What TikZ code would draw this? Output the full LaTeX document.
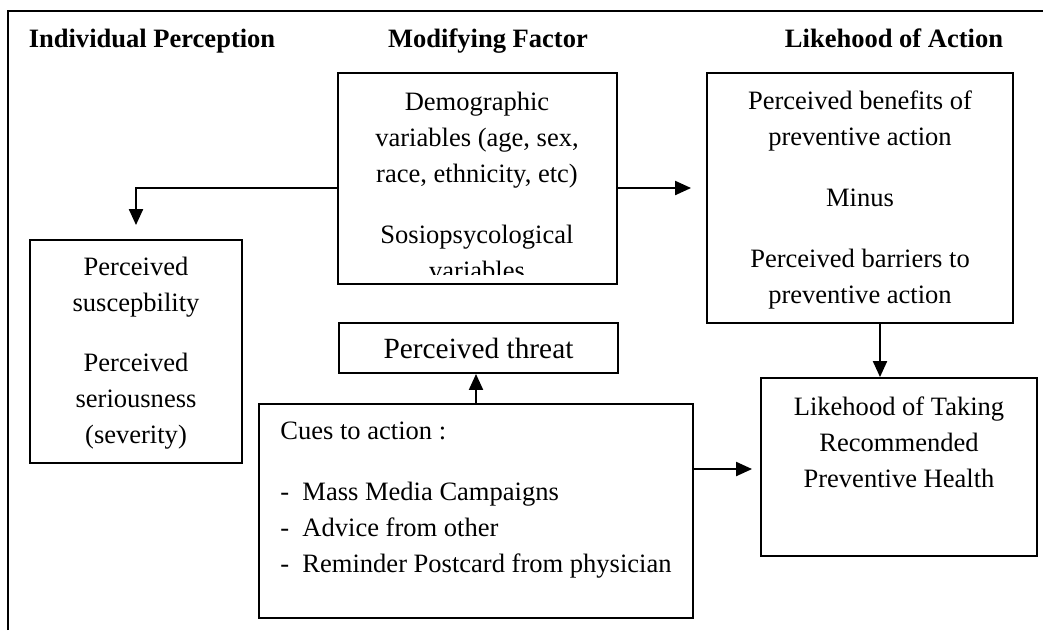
\documentclass[tikz,border=0pt]{standalone}
\usepackage{fontspec}
\setmainfont{Liberation Serif}
\usetikzlibrary{arrows.meta}
\begin{document}
\begin{tikzpicture}[x=0.02cm, y=-0.02cm,
  box/.style={draw, line width=1.1pt, inner sep=0pt},
  txt/.style={align=center, inner sep=0pt, font=\fontsize{15.1}{20.5}\selectfont},
  head/.style={inner sep=0pt, anchor=base, font=\fontsize{15.1}{18}\selectfont\bfseries},
  arr/.style={line width=1.2pt, -{Triangle[length=0.32cm, width=0.28cm]}}]
\useasboundingbox (0,0) rectangle (1043,630);
\draw[line width=1.1pt] (8,630) -- (8,11) -- (1043,11);
% headings
\node[head] (h1) at (152,47) {Individual Perception};
\node[head] (h2) at (488,47) {Modifying Factor};
\node[head] (h3) at (894,47) {Likehood of Action};
% boxes
\node[box, minimum width=5.58cm, minimum height=4.22cm] (1) at (477.5,178.5) {};
\node[box, minimum width=6.12cm, minimum height=5.0cm] (2) at (860,198) {};
\node[box, minimum width=4.24cm, minimum height=4.46cm] (3) at (136,351.5) {};
\node[box, minimum width=5.58cm, minimum height=1.0cm,
  font=\fontsize{16.7}{20}\selectfont] (4) at (478.5,348) {Perceived threat};
\node[box, minimum width=8.68cm, minimum height=4.28cm] (5) at (476,511) {};
\node[box, minimum width=5.52cm, minimum height=3.56cm] (6) at (899,467) {};
% texts
\begin{scope}
\clip (338,73) rectangle (617,274);
\node[txt] (t1) at (477,186) {Demographic\\variables (age, sex,\\race, ethnicity, etc)\\[14pt]Sosiopsycological\\variables};
\end{scope}
\node[txt] (t2) at (860,200) {Perceived benefits of\\preventive action\\[14pt]Minus\\[14pt]Perceived barriers to\\preventive action};
\node[txt] (t3) at (136,353) {Perceived\\suscepbility\\[14pt]Perceived\\seriousness\\(severity)};
\node[txt, align=left, anchor=west] (t5) at (280,500) {Cues to action :\\[14pt]-\hspace{0.5em}Mass Media Campaigns\\-\hspace{0.5em}Advice from other\\-\hspace{0.5em}Reminder Postcard from physician};
\node[txt] (t6) at (899,442) {Likehood of Taking\\Recommended\\Preventive Health};
% arrows
\draw[arr, shorten >=0.28cm] ([yshift=-0.19cm]1.west) -| (3.north);
\draw[arr, shorten >=0.3cm] ([yshift=-0.19cm]1.east) -- ([yshift=-0.19cm]1.east -| 2.west);
\draw[arr] (5.north) -- (5.north |- 4.south);
\draw[arr] ([xshift=0.4cm]2.south) -- ([xshift=0.4cm]2.south |- 6.north);
\draw[arr, shorten >=0.16cm] ([yshift=0.84cm]5.east) -- ([yshift=0.84cm]5.east -| 6.west);
\end{tikzpicture}
\end{document}
